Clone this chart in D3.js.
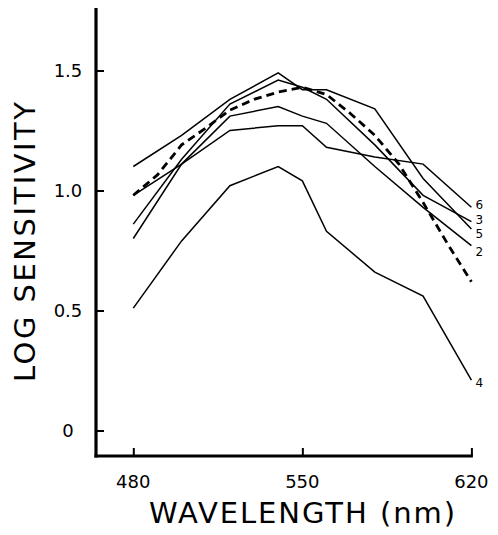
<!DOCTYPE html>
<html>
<head>
<meta charset="utf-8">
<script src="https://cdn.jsdelivr.net/npm/d3@7"></script>
<style>
  body { margin: 0; background: #fff; }
  svg { display: block; font-family: "DejaVu Sans", sans-serif; }
</style>
</head>
<body>
<div id="chart"></div>
<script>
// Data
const wavelengths = [480, 500, 520, 540, 550, 560, 580, 600, 620];
const curve2 = [0.80, 1.11, 1.31, 1.35, 1.31, 1.28, 1.10, 0.93, 0.77];
const curve3 = [0.86, 1.13, 1.36, 1.46, 1.43, 1.38, 1.19, 0.98, 0.87];
const curve5 = [1.10, 1.23, 1.38, 1.49, 1.42, 1.42, 1.34, 1.05, 0.84];
const curve6 = [0.98, 1.11, 1.25, 1.27, 1.27, 1.18, 1.14, 1.11, 0.93];

const wavelengths4 = [480, 500, 520, 530, 540, 550, 560, 580, 600, 620];
const curve4 = [0.51, 0.79, 1.02, 1.06, 1.10, 1.04, 0.83, 0.66, 0.56, 0.21];

const wavelengthsDashed = [480, 490, 500, 510, 520, 530, 540, 550, 560, 570, 580, 590, 600, 610, 620];
const curveDashed = [0.98, 1.065, 1.19, 1.26, 1.335, 1.38, 1.41, 1.43, 1.40, 1.32, 1.23, 1.11, 0.95, 0.78, 0.62];

const xTicks = [480, 550, 620];
const yTicks = [0, 0.5, 1.0, 1.5];
const yTickLabels = ["0", "0.5", "1.0", "1.5"];

const width = 498, height = 535;

const svg = d3.select("#chart").append("svg")
  .attr("width", width)
  .attr("height", height);

const x = d3.scaleLinear().domain([480, 620]).range([133.3, 471.4]);
const y = d3.scaleLinear().domain([0, 1.5]).range([430.5, 70.5]);

const axisX = 96, axisY = 456;

// y axis with inward ticks
const yAxis = svg.append("g")
  .attr("transform", `translate(${axisX},0)`)
  .call(d3.axisRight(y).tickValues(yTicks).tickSize(8).tickFormat(""));
yAxis.select(".domain").remove();
yAxis.selectAll("line").attr("stroke", "#000").attr("stroke-width", 2);

// x axis with upward ticks
const xAxis = svg.append("g")
  .attr("transform", `translate(0,${axisY})`)
  .call(d3.axisTop(x).tickValues(xTicks).tickSize(8).tickFormat(""));
xAxis.select(".domain").remove();
xAxis.selectAll("line").attr("stroke", "#000").attr("stroke-width", 2);

// axis lines
svg.append("line")
  .attr("x1", axisX).attr("x2", axisX)
  .attr("y1", 8).attr("y2", axisY + 1.5)
  .attr("stroke", "#000").attr("stroke-width", 3.2);
svg.append("line")
  .attr("x1", axisX - 1.5).attr("x2", x(620) + 1.5)
  .attr("y1", axisY).attr("y2", axisY)
  .attr("stroke", "#000").attr("stroke-width", 3.2);

// tick labels
svg.selectAll(".ylab")
  .data(yTicks)
  .enter().append("text")
  .attr("class", "ylab")
  .attr("x", 68)
  .attr("y", d => y(d))
  .attr("dy", "0.36em")
  .attr("text-anchor", "middle")
  .attr("font-size", 18)
  .text((d, i) => yTickLabels[i]);

svg.selectAll(".xlab")
  .data(xTicks)
  .enter().append("text")
  .attr("class", "xlab")
  .attr("x", d => x(d))
  .attr("y", 488)
  .attr("text-anchor", "middle")
  .attr("font-size", 18)
  .text(d => d);

// axis titles
svg.append("text")
  .attr("x", 302)
  .attr("y", 523)
  .attr("text-anchor", "middle")
  .attr("font-size", 29)
  .attr("textLength", 306)
  .text("WAVELENGTH (nm)");

svg.append("text")
  .attr("transform", "translate(35,242) rotate(-90)")
  .attr("text-anchor", "middle")
  .attr("font-size", 29)
  .attr("textLength", 280)
  .text("LOG SENSITIVITY");

// curves
const line = d3.line()
  .x(d => x(d[0]))
  .y(d => y(d[1]));

const series = [
  {label: "6", wl: wavelengths, v: curve6, dy: -2.5},
  {label: "3", wl: wavelengths, v: curve3, dy: -2},
  {label: "5", wl: wavelengths, v: curve5, dy: 5},
  {label: "2", wl: wavelengths, v: curve2, dy: 6},
  {label: "4", wl: wavelengths4, v: curve4, dy: 2.5}
];

series.forEach(s => {
  const pts = s.wl.map((w, i) => [w, s.v[i]]);
  svg.append("path")
    .datum(pts)
    .attr("d", line)
    .attr("fill", "none")
    .attr("stroke", "#000")
    .attr("stroke-width", 1.5)
    .attr("stroke-linejoin", "miter");
  svg.append("text")
    .attr("x", x(620) + 4)
    .attr("y", y(s.v[s.v.length - 1]) + s.dy)
    .attr("dy", "0.36em")
    .attr("font-size", 12)
    .text(s.label);
});

svg.append("path")
  .datum(wavelengthsDashed.map((w, i) => [w, curveDashed[i]]))
  .attr("d", line)
  .attr("fill", "none")
  .attr("stroke", "#000")
  .attr("stroke-width", 2.8)
  .attr("stroke-dasharray", "8,5");
</script>
</body>
</html>
